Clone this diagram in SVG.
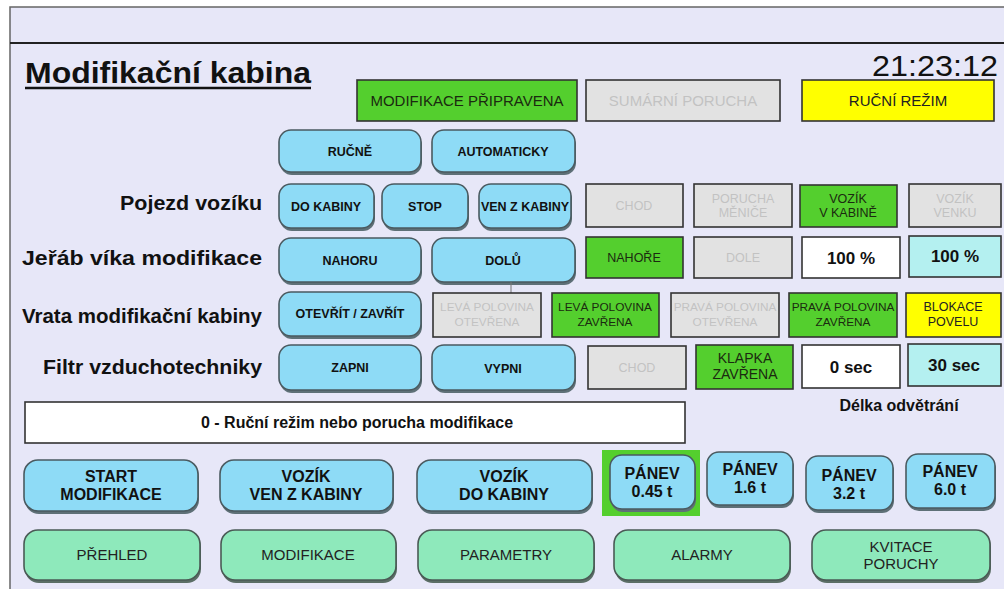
<svg xmlns="http://www.w3.org/2000/svg" width="1004" height="589" viewBox="0 0 1004 589">
<defs>
<style>
text{font-family:"Liberation Sans",Arial,sans-serif;}
.lbl{font-size:20px;font-weight:bold;fill:#111;text-anchor:end;}
.btn rect.f{fill:#8edbf6;stroke:#4a5a60;stroke-width:1.6;}
.btn rect.s{fill:#5e7077;}
.btn text{font-size:12.5px;font-weight:bold;fill:#111;text-anchor:middle;}
.big text{font-size:16px;}
.nav rect.f{fill:#8ee9bb;stroke:#4a5a55;stroke-width:1.6;}
.nav rect.s{fill:#5b6e66;}
.nav text{font-size:15px;fill:#222;text-anchor:middle;}
.ind rect{stroke:#333;stroke-width:1.6;}
.ind text{font-size:12.5px;text-anchor:middle;}
.ind text.sm{font-size:11.8px;}
.g rect{fill:#54cf2e;}
.g text{fill:#1b2a10;}
.o rect{fill:#e2e2e2;}
.o text{fill:#c2c2c2;}
.y rect{fill:#ffff00;}
.y text{fill:#222;}
.w rect{fill:#ffffff;}
.c rect{fill:#b4f0f0;}
.w text,.c text{font-size:17px;font-weight:bold;fill:#111;}
</style>
</defs>
<rect x="0" y="0" width="1004" height="589" fill="#ffffff"/>
<rect x="10" y="7" width="1000" height="590" fill="#e7e7f8" stroke="#666" stroke-width="1.5"/>
<line x1="10" y1="43" x2="1004" y2="43" stroke="#222" stroke-width="2.2"/>

<g id="title">
<text x="25" y="83" font-size="29" font-weight="bold" fill="#111" textLength="286" lengthAdjust="spacingAndGlyphs">Modifikační kabina</text>
<line x1="25" y1="88" x2="311" y2="88" stroke="#111" stroke-width="2.5"/>
</g>
<text id="clock" x="998" y="76" font-size="29" fill="#111" text-anchor="end" textLength="126" lengthAdjust="spacingAndGlyphs">21:23:12</text>

<g id="status-ready" class="ind g"><rect x="357" y="80" width="220" height="41"/><text x="467" y="106" style="font-size:15px">MODIFIKACE PŘIPRAVENA</text></g>
<g id="status-fault" class="ind o"><rect x="586" y="80" width="194" height="41"/><text x="683" y="106" style="font-size:15px">SUMÁRNÍ PORUCHA</text></g>
<g id="status-manual" class="ind y"><rect x="802" y="80" width="192" height="41"/><text x="898" y="106" style="font-size:15px">RUČNÍ REŽIM</text></g>

<g id="btn-rucne" class="btn"><rect class="s" x="280" y="133" width="142" height="42" rx="12"/><rect class="f" x="279" y="130" width="142" height="42" rx="12"/><text x="350" y="156">RUČNĚ</text></g>
<g id="btn-auto" class="btn"><rect class="s" x="433" y="133" width="143" height="42" rx="12"/><rect class="f" x="432" y="130" width="143" height="42" rx="12"/><text x="503" y="156">AUTOMATICKY</text></g>

<text class="lbl" x="262" y="210" textLength="142" lengthAdjust="spacingAndGlyphs">Pojezd vozíku</text>
<g id="btn-do-kabiny" class="btn"><rect class="s" x="280" y="187" width="95" height="44" rx="12"/><rect class="f" x="279" y="184" width="95" height="44" rx="12"/><text x="326" y="211">DO KABINY</text></g>
<g id="btn-stop" class="btn"><rect class="s" x="383" y="187" width="86" height="44" rx="12"/><rect class="f" x="382" y="184" width="86" height="44" rx="12"/><text x="425" y="211">STOP</text></g>
<g id="btn-ven" class="btn"><rect class="s" x="480" y="187" width="92" height="44" rx="12"/><rect class="f" x="479" y="184" width="92" height="44" rx="12"/><text x="525" y="211">VEN Z KABINY</text></g>
<g id="ind-chod1" class="ind o"><rect x="586" y="184" width="97" height="43"/><text x="634" y="210">CHOD</text></g>
<g id="ind-porucha-menice" class="ind o"><rect x="694" y="184" width="98" height="43"/><text x="743" y="203">PORUCHA</text><text x="743" y="217">MĚNIČE</text></g>
<g id="ind-vozik-kabine" class="ind g"><rect x="800" y="185" width="97" height="42"/><text x="848" y="203">VOZÍK</text><text x="848" y="217">V KABINĚ</text></g>
<g id="ind-vozik-venku" class="ind o"><rect x="909" y="184" width="92" height="43"/><text x="955" y="203">VOZÍK</text><text x="955" y="217">VENKU</text></g>

<text class="lbl" x="262" y="265" textLength="240" lengthAdjust="spacingAndGlyphs">Jeřáb víka modifikace</text>
<g id="btn-nahoru" class="btn"><rect class="s" x="280" y="241" width="142" height="44" rx="12"/><rect class="f" x="279" y="238" width="142" height="44" rx="12"/><text x="350" y="265">NAHORU</text></g>
<g id="btn-dolu" class="btn"><rect class="s" x="433" y="241" width="143" height="44" rx="12"/><rect class="f" x="432" y="238" width="143" height="44" rx="12"/><text x="503" y="265">DOLŮ</text></g>
<g id="ind-nahore" class="ind g"><rect x="586" y="237" width="97" height="41"/><text x="634" y="262">NAHOŘE</text></g>
<g id="ind-dole" class="ind o"><rect x="694" y="237" width="98" height="41"/><text x="743" y="262">DOLE</text></g>
<g id="val-jerab" class="ind w"><rect x="802" y="237" width="98" height="41"/><text x="851" y="264">100 %</text></g>
<g id="set-jerab" class="ind c"><rect x="909" y="236" width="92" height="41"/><text x="955" y="262">100 %</text></g>

<g id="connectors"><line x1="511" y1="282" x2="511" y2="293" stroke="#777" stroke-width="1"/></g>

<text class="lbl" x="262" y="323" textLength="240" lengthAdjust="spacingAndGlyphs">Vrata modifikační kabiny</text>
<g id="btn-otevrit" class="btn"><rect class="s" x="280" y="295" width="142" height="44" rx="12"/><rect class="f" x="279" y="292" width="142" height="44" rx="12"/><text x="350" y="318">OTEVŘÍT / ZAVŘÍT</text></g>
<g id="ind-leva-otevrena" class="ind o"><rect x="433" y="293" width="108" height="44"/><text class="sm" x="487" y="311">LEVÁ POLOVINA</text><text class="sm" x="487" y="326">OTEVŘENA</text></g>
<g id="ind-leva-zavrena" class="ind g"><rect x="552" y="293" width="107" height="44"/><text class="sm" x="605" y="311">LEVÁ POLOVINA</text><text class="sm" x="605" y="326">ZAVŘENA</text></g>
<g id="ind-prava-otevrena" class="ind o"><rect x="671" y="293" width="108" height="44"/><text class="sm" x="725" y="311">PRAVÁ POLOVINA</text><text class="sm" x="725" y="326">OTEVŘENA</text></g>
<g id="ind-prava-zavrena" class="ind g"><rect x="789" y="293" width="108" height="44"/><text class="sm" x="843" y="311">PRAVÁ POLOVINA</text><text class="sm" x="843" y="326">ZAVŘENA</text></g>
<g id="ind-blokace" class="ind y"><rect x="906" y="293" width="95" height="44"/><text x="953" y="311">BLOKACE</text><text x="953" y="326">POVELU</text></g>

<text class="lbl" x="262" y="374" textLength="219" lengthAdjust="spacingAndGlyphs">Filtr vzduchotechniky</text>
<g id="btn-zapni" class="btn"><rect class="s" x="280" y="348" width="142" height="45" rx="12"/><rect class="f" x="279" y="345" width="142" height="45" rx="12"/><text x="350" y="372">ZAPNI</text></g>
<g id="btn-vypni" class="btn"><rect class="s" x="433" y="348" width="143" height="45" rx="12"/><rect class="f" x="432" y="345" width="143" height="45" rx="12"/><text x="503" y="373">VYPNI</text></g>
<g id="ind-chod2" class="ind o"><rect x="588" y="346" width="98" height="43"/><text x="637" y="372">CHOD</text></g>
<g id="ind-klapka" class="ind g"><rect x="696" y="345" width="97" height="44"/><text x="745" y="363" style="font-size:14px">KLAPKA</text><text x="745" y="379" style="font-size:14px">ZAVŘENA</text></g>
<g id="val-odvetrani" class="ind w"><rect x="802" y="345" width="98" height="43"/><text x="851" y="373">0 sec</text></g>
<g id="set-odvetrani" class="ind c"><rect x="908" y="344" width="93" height="42"/><text x="954" y="371">30 sec</text></g>
<text x="899" y="411" font-size="16" font-weight="bold" fill="#111" text-anchor="middle">Délka odvětrání</text>

<g id="message" class="ind"><rect x="25" y="402" width="660" height="41" fill="#ffffff" stroke="#222"/><text x="357" y="428" style="font-size:16px;font-weight:bold;fill:#111">0 - Ruční režim nebo porucha modifikace</text></g>

<g id="btn-start" class="btn big"><rect class="s" x="25" y="463" width="174" height="51" rx="14"/><rect class="f" x="24" y="460" width="174" height="51" rx="14"/><text x="111" y="482">START</text><text x="111" y="500">MODIFIKACE</text></g>
<g id="btn-vozik-ven" class="btn big"><rect class="s" x="221" y="463" width="173" height="51" rx="14"/><rect class="f" x="220" y="460" width="173" height="51" rx="14"/><text x="306" y="482">VOZÍK</text><text x="306" y="500">VEN Z KABINY</text></g>
<g id="btn-vozik-do" class="btn big"><rect class="s" x="418" y="463" width="175" height="51" rx="14"/><rect class="f" x="417" y="460" width="175" height="51" rx="14"/><text x="504" y="482">VOZÍK</text><text x="504" y="500">DO KABINY</text></g>
<rect x="602" y="450" width="98" height="66" fill="#54cf2e"/>
<g id="btn-panev-045" class="btn big"><rect class="s" x="611" y="458" width="85" height="54" rx="12"/><rect class="f" x="610" y="455" width="85" height="54" rx="12"/><text x="652" y="479">PÁNEV</text><text x="652" y="497">0.45 t</text></g>
<g id="btn-panev-16" class="btn big"><rect class="s" x="708" y="455" width="86" height="53" rx="12"/><rect class="f" x="707" y="452" width="86" height="53" rx="12"/><text x="750" y="475">PÁNEV</text><text x="750" y="493">1.6 t</text></g>
<g id="btn-panev-32" class="btn big"><rect class="s" x="807" y="459" width="87" height="54" rx="12"/><rect class="f" x="806" y="456" width="87" height="54" rx="12"/><text x="849" y="481">PÁNEV</text><text x="849" y="499">3.2 t</text></g>
<g id="btn-panev-60" class="btn big"><rect class="s" x="907" y="457" width="89" height="54" rx="12"/><rect class="f" x="906" y="454" width="89" height="54" rx="12"/><text x="950" y="477">PÁNEV</text><text x="950" y="495">6.0 t</text></g>

<g id="nav-prehled" class="nav"><rect class="s" x="25" y="533" width="176" height="50" rx="14"/><rect class="f" x="24" y="530" width="176" height="50" rx="14"/><text x="112" y="560">PŘEHLED</text></g>
<g id="nav-modifikace" class="nav"><rect class="s" x="222" y="533" width="175" height="50" rx="14"/><rect class="f" x="221" y="530" width="175" height="50" rx="14"/><text x="308" y="560">MODIFIKACE</text></g>
<g id="nav-parametry" class="nav"><rect class="s" x="419" y="533" width="176" height="50" rx="14"/><rect class="f" x="418" y="530" width="176" height="50" rx="14"/><text x="506" y="560">PARAMETRY</text></g>
<g id="nav-alarmy" class="nav"><rect class="s" x="615" y="533" width="176" height="50" rx="14"/><rect class="f" x="614" y="530" width="176" height="50" rx="14"/><text x="702" y="560">ALARMY</text></g>
<g id="nav-kvitace" class="nav"><rect class="s" x="813" y="533" width="178" height="50" rx="14"/><rect class="f" x="812" y="530" width="178" height="50" rx="14"/><text x="901" y="552">KVITACE</text><text x="901" y="569">PORUCHY</text></g>
</svg>
